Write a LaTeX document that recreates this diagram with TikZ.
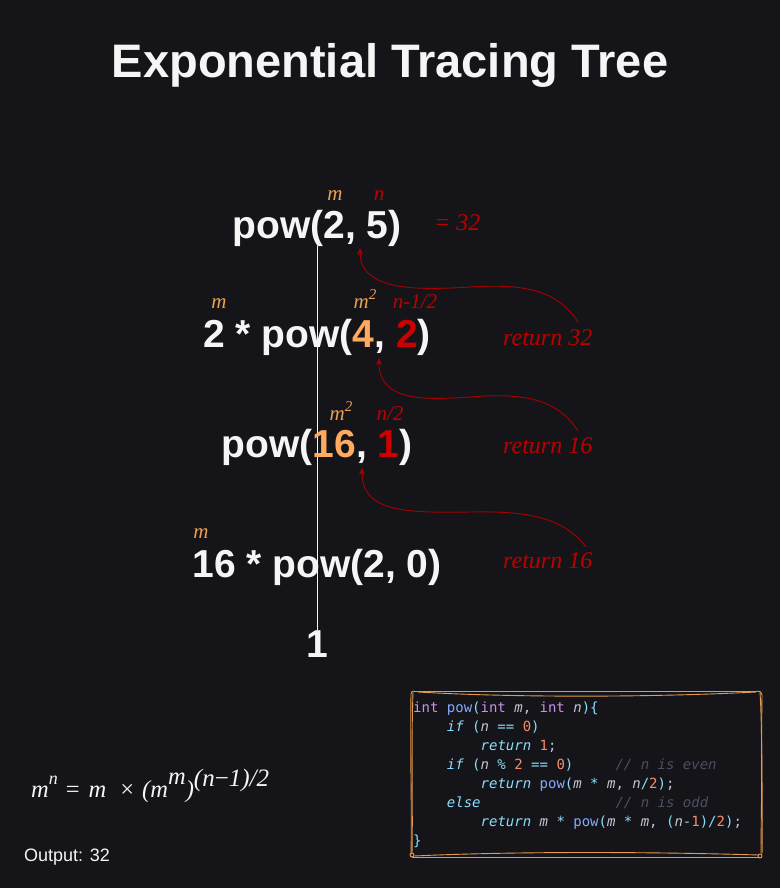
\documentclass[tikz,border=0pt]{standalone}
\usepackage{fontspec}
\usetikzlibrary{arrows.meta}
\setmainfont{Liberation Sans}
\newfontfamily\serifface{Liberation Serif}
\newfontfamily\codeface{DejaVu Sans Mono}
\definecolor{bg}{HTML}{151519}
\definecolor{txt}{HTML}{F5F5F5}
\definecolor{org}{HTML}{FFAA5E}
\definecolor{orglab}{HTML}{EBA052}
\definecolor{redb}{HTML}{CC0000}
\definecolor{redlab}{HTML}{BB0000}
\definecolor{arr}{HTML}{A80000}
\definecolor{sketch}{HTML}{E39A4E}
\definecolor{ckw}{HTML}{C792EA}
\definecolor{cfn}{HTML}{82AAFF}
\definecolor{cpu}{HTML}{89DDFF}
\definecolor{cid}{HTML}{C3C6D8}
\definecolor{cnum}{HTML}{F78C6C}
\definecolor{ccm}{HTML}{4A5062}
\newcommand\cdkw[1]{\textcolor{ckw}{#1}}
\newcommand\cdfn[1]{\textcolor{cfn}{#1}}
\newcommand\cdpu[1]{\textcolor{cpu}{#1}}
\newcommand\cdid[1]{\textcolor{cid}{\itshape #1}}
\newcommand\cdit[1]{\textcolor{cpu}{\itshape #1}}
\newcommand\cdnum[1]{\textcolor{cnum}{#1}}
\newcommand\cdcm[1]{\textcolor{ccm}{\itshape #1}}
\newcommand\msup[1]{m\raisebox{9pt}{\fontsize{15}{15}\selectfont #1}}
\pgfdeclarelayer{behind}
\pgfsetlayers{behind,main}
\tikzset{
  treenode/.style={text=txt, font=\fontsize{39}{39}\selectfont\bfseries, inner sep=0pt, anchor=base},
  lab/.style={font=\fontsize{21}{21}\selectfont\serifface\itshape, inner sep=0pt, anchor=base},
  retlab/.style={font=\fontsize{24}{24}\selectfont\serifface\itshape, text=redlab, inner sep=0pt, anchor=base west},
  treeline/.style={draw=txt, line width=0.8pt},
  retarrow/.style={draw=arr, line width=0.9pt, -{Stealth[length=7pt,width=6pt]}},
  codeline/.style={font=\fontsize{14}{14}\selectfont\codeface, text=cid, inner sep=0pt, anchor=base west},
  sk/.style={draw=sketch, line width=0.9pt},
}
\begin{document}
\begin{tikzpicture}[x=1pt,y=-1pt]
\begin{pgfonlayer}{behind}
\path[fill=bg] (0,0) rectangle (780,888);
\end{pgfonlayer}
\useasboundingbox (0,0) rectangle (780,888);

% title
\node[text=txt, font=\fontsize{47}{47}\selectfont\bfseries, inner sep=0pt, anchor=base] (title) at (390,78) {Exponential Tracing Tree};

% tree nodes
\node[treenode] (p1) at (317,238) {pow(2, 5)};
\node[treenode] (p2) at (317,347) {2 * pow(\textcolor{org}{4}, \textcolor{redb}{2})};
\node[treenode] (p3) at (317,457) {pow(\textcolor{org}{16}, \textcolor{redb}{1})};
\node[treenode] (p4) at (317,577) {16 * pow(2, 0)};
\node[treenode] (one) at (317,657) {1};

\begin{pgfonlayer}{behind}
\draw[treeline] (p1.south) -- (one.north);
\end{pgfonlayer}

% labels
\node[lab, text=orglab] (l1m) at (335,200) {m};
\node[lab, text=redlab] (l1n) at (379,200) {n};
\node[lab, text=orglab] (l2m) at (219,308) {m};
\node[lab, text=orglab] (l2m2) at (365,308) {\msup{2}};
\node[lab, text=redlab] (l2n) at (415,308) {n-1/2};
\node[lab, text=orglab] (l3m2) at (341,420) {\msup{2}};
\node[lab, text=redlab] (l3n) at (390,420) {n/2};
\node[lab, text=orglab] (l4m) at (201,538) {m};

\node[retlab] (eq32) at (434,230) {= 32};
\node[retlab] (r1) at (503,345) {return 32};
\node[retlab] (r2) at (503,453) {return 16};
\node[retlab] (r3) at (503,568) {return 16};

% return arrows
\coordinate (a1s) at (578,322);
\coordinate (a1e) at (360,248);
\coordinate (a2s) at (578,431);
\coordinate (a2e) at (379,358);
\coordinate (a3s) at (586,547);
\coordinate (a3e) at (362,468);
\draw[retarrow] (a1s) .. controls (556,288) and (520,284) .. (470,287) .. controls (420,290) and (360,292) .. (a1e);
\draw[retarrow] (a2s) .. controls (556,397) and (520,393) .. (470,397) .. controls (425,400) and (379,402) .. (a2e);
\draw[retarrow] (a3s) .. controls (562,516) and (525,511) .. (470,512) .. controls (405,513) and (362,512) .. (a3e);

% formula
\node[font=\fontsize{24.5}{24.5}\selectfont\serifface\itshape, text=txt, inner sep=0pt, anchor=base west] (formula) at (31,797)
 {m\raisebox{13pt}{\fontsize{18}{18}\selectfont n}\kern8pt{\upshape =}\kern9pt m\kern14pt{\upshape ×}\kern8pt(m\raisebox{13pt}{m})\raisebox{11pt}{\fontsize{25}{25}\selectfont(n{\upshape −}1)/2}};

% output
\node[text=txt, font=\fontsize{18}{18}\selectfont, inner sep=0pt, anchor=base west] (out) at (24,861) {Output: 32};

% code box (sketchy)
\draw[sk] (414,691) -- (757,691);
\draw[sk] (418,692) .. controls (520,698) and (660,697) .. (756,692);
\draw[sk] (411,694) .. controls (410,760) and (412,800) .. (411,855);
\draw[sk] (413,692) .. controls (411,750) and (413,810) .. (412,853);
\draw[sk] (762,695) .. controls (761,760) and (763,800) .. (762,854);
\draw[sk] (760,692) .. controls (763,740) and (761,820) .. (761,853);
\draw[sk] (412,857) -- (760,857);
\draw[sk] (414,856) .. controls (520,851) and (660,852) .. (759,855);
\draw[sk] (757,691) .. controls (760,691) and (762,692) .. (762,695);
\draw[sk] (411,694) .. controls (411,692) and (412,691) .. (414,691);
\draw[sk] (412,855) circle (2);
\draw[sk] (760,856) circle (2);

% code lines
\node[codeline] (c1) at (413,712) {\cdkw{int} \cdfn{pow}\cdpu{(}\cdkw{int} \cdid{m}, \cdkw{int} \cdid{n}\cdpu{)\{}};
\node[codeline] (c2) at ({413+4*8.43},731) {\cdit{if} \cdpu{(}\cdid{n} \cdpu{==} \cdnum{0}\cdpu{)}};
\node[codeline] (c3) at ({413+8*8.43},750) {\cdit{return} \cdnum{1};};
\node[codeline] (c4) at ({413+4*8.43},769) {\cdit{if} \cdpu{(}\cdid{n} \cdpu{\%} \cdnum{2} \cdpu{==} \cdnum{0}\cdpu{)}};
\node[codeline] (c4c) at ({413+24*8.43},769) {\cdcm{// n is even}};
\node[codeline] (c5) at ({413+8*8.43},788) {\cdit{return} \cdfn{pow}\cdpu{(}\cdid{m} \cdpu{*} \cdid{m}, \cdid{n}\cdpu{/}\cdnum{2}\cdpu{)};};
\node[codeline] (c6) at ({413+4*8.43},807) {\cdit{else}};
\node[codeline] (c6c) at ({413+24*8.43},807) {\cdcm{// n is odd}};
\node[codeline] (c7) at ({413+8*8.43},826) {\cdit{return} \cdid{m} \cdpu{*} \cdfn{pow}\cdpu{(}\cdid{m} \cdpu{*} \cdid{m}, \cdpu{(}\cdid{n}\cdpu{-}\cdnum{1}\cdpu{)/}\cdnum{2}\cdpu{)};};
\node[codeline] (c8) at (413,845) {\cdpu{\}}};
\end{tikzpicture}
\end{document}
